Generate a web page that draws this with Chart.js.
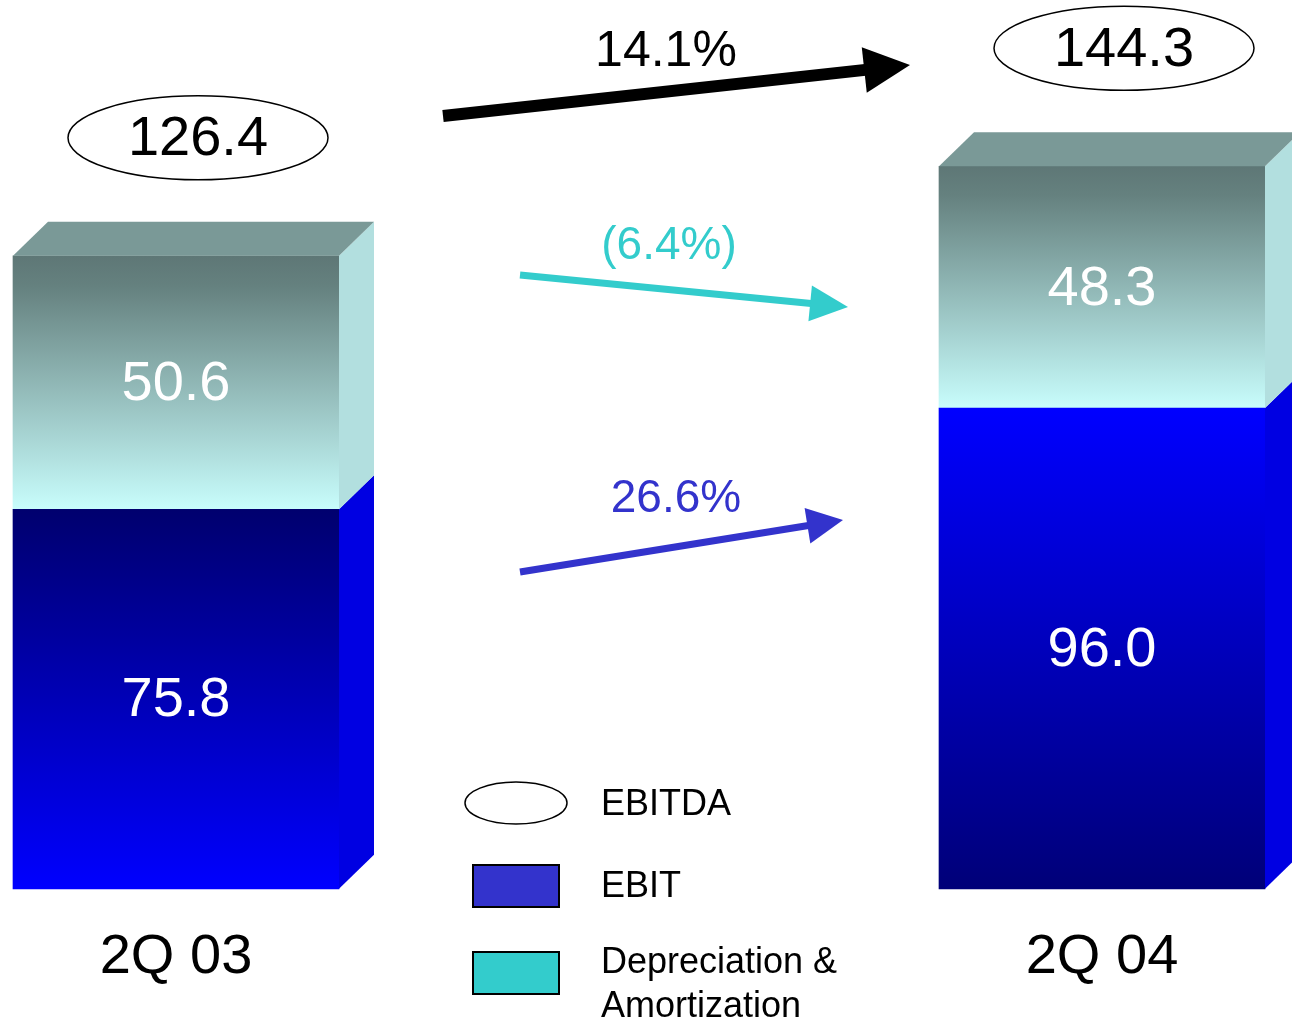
<!DOCTYPE html>
<html>
<head>
<meta charset="utf-8">
<title>EBITDA 2Q 03 vs 2Q 04</title>
<script src="https://cdn.jsdelivr.net/npm/chart.js@4.4.1/dist/chart.umd.min.js"></script>
<style>
  html, body { margin: 0; padding: 0; background: #fff; }
  #wrap { width: 1292px; height: 1026px; }
</style>
</head>
<body>
<div id="wrap"><canvas id="ebitdaChart" width="1292" height="1026"></canvas></div>
<script>
// quarterly figures
const quarters = ['2Q 03', '2Q 04'];
const ebit = [75.8, 96.0];
const depAmort = [50.6, 48.3];
const ebitda = [126.4, 144.3];
const growth = ['14.1%', '(6.4%)', '26.6%'];
const seriesNames = ['EBITDA', 'EBIT', 'Depreciation & Amortization'];

const FONT = '"Liberation Sans", Arial, Helvetica, sans-serif';
const DX = 35, DY = 34;   // depth of the fake 3d box

// gradient stops per bar (top -> bottom)
const ebitShades = [['#00006e', '#0000ff'], ['#0000ff', '#000078']];
const daShades = ['#5e7776', '#65817f', '#c8fdfc'];
const sideColors = ['#0000e2', '#b2dfdf'];
const topColor = '#7a9997';

function ebitFill(c) {
    const chart = c.chart;
    if (!chart.chartArea || c.type !== 'data') return '#0000ff';
    const y = chart.scales.y;
    const top = y.getPixelForValue(ebit[c.dataIndex]);
    const base = y.getPixelForValue(0);
    const g = chart.ctx.createLinearGradient(0, top, 0, base);
    const s = ebitShades[c.dataIndex];
    g.addColorStop(0, s[0]);
    g.addColorStop(1, s[1]);
    return g;
}

function daFill(c) {
    const chart = c.chart;
    if (!chart.chartArea || c.type !== 'data') return '#9fd0d0';
    const y = chart.scales.y;
    const i = c.dataIndex;
    const top = y.getPixelForValue(ebit[i] + depAmort[i]);
    const base = y.getPixelForValue(ebit[i]);
    const g = chart.ctx.createLinearGradient(0, top, 0, base);
    g.addColorStop(0, daShades[0]);
    g.addColorStop(0.12, daShades[1]);
    g.addColorStop(1, daShades[2]);
    return g;
}

function drawArrow(ctx, x1, y1, x2, y2, lw, headLen, headHalf, color) {
    const ang = Math.atan2(y2 - y1, x2 - x1);
    const bx = x2 - headLen * Math.cos(ang), by = y2 - headLen * Math.sin(ang);
    ctx.save();
    ctx.strokeStyle = color;
    ctx.fillStyle = color;
    ctx.lineWidth = lw;
    ctx.beginPath();
    ctx.moveTo(x1, y1);
    ctx.lineTo(bx + Math.cos(ang), by + Math.sin(ang));
    ctx.stroke();
    ctx.beginPath();
    ctx.moveTo(x2, y2);
    ctx.lineTo(bx + headHalf * Math.sin(ang), by - headHalf * Math.cos(ang));
    ctx.lineTo(bx - headHalf * Math.sin(ang), by + headHalf * Math.cos(ang));
    ctx.closePath();
    ctx.fill();
    ctx.restore();
}

function wrapText(ctx, text, maxW) {
    const words = text.split(' ');
    const lines = [];
    let line = '';
    words.forEach(w => {
        const test = line ? line + ' ' + w : w;
        if (ctx.measureText(test).width > maxW && line) {
            lines.push(line);
            line = w;
        } else {
            line = test;
        }
    });
    lines.push(line);
    return lines;
}

// side/top faces, values, totals, growth arrows and the legend
const boxPlugin = {
    id: 'boxes',
    afterDatasetsDraw(chart) {
        const ctx = chart.ctx;
        const metas = [chart.getDatasetMeta(0), chart.getDatasetMeta(1)];
        ctx.save();

        metas.forEach((meta, d) => {
            meta.data.forEach(bar => {
                const right = bar.x + bar.width / 2;
                ctx.fillStyle = sideColors[d];
                ctx.beginPath();
                ctx.moveTo(right, bar.y);
                ctx.lineTo(right + DX, bar.y - DY);
                ctx.lineTo(right + DX, bar.base - DY);
                ctx.lineTo(right, bar.base);
                ctx.closePath();
                ctx.fill();
            });
        });

        metas[1].data.forEach(bar => {
            const left = bar.x - bar.width / 2, right = bar.x + bar.width / 2;
            ctx.fillStyle = topColor;
            ctx.beginPath();
            ctx.moveTo(left, bar.y);
            ctx.lineTo(left + DX, bar.y - DY);
            ctx.lineTo(right + DX, bar.y - DY);
            ctx.lineTo(right, bar.y);
            ctx.closePath();
            ctx.fill();
        });

        // segment values
        ctx.fillStyle = '#ffffff';
        ctx.font = '56px ' + FONT;
        ctx.textAlign = 'center';
        ctx.textBaseline = 'middle';
        const values = [ebit, depAmort];
        metas.forEach((meta, d) => {
            meta.data.forEach((bar, i) => {
                ctx.fillText(values[d][i].toFixed(1), bar.x, (bar.y + bar.base) / 2 + 2);
            });
        });

        // EBITDA totals in ellipses
        metas[1].data.forEach((bar, i) => {
            const cx = bar.x + 22, cy = bar.y - DY - 84;
            ctx.beginPath();
            ctx.ellipse(cx, cy, 130, 42, 0, 0, Math.PI * 2);
            ctx.fillStyle = '#ffffff';
            ctx.fill();
            ctx.lineWidth = 1.5;
            ctx.strokeStyle = '#000000';
            ctx.stroke();
            ctx.fillStyle = '#000000';
            ctx.font = '56px ' + FONT;
            ctx.fillText(ebitda[i].toFixed(1), cx, cy + 2);
        });

        // growth arrows
        drawArrow(ctx, 443, 116, 910, 65, 12, 46, 23, '#000000');
        drawArrow(ctx, 520, 275, 848, 307, 7, 38, 18, '#33cccc');
        drawArrow(ctx, 520, 572, 843, 520, 7, 36, 18, '#3333cc');
        ctx.font = '50px ' + FONT;
        ctx.fillStyle = '#000000';
        ctx.fillText(growth[0], 666, 52);
        ctx.font = '46px ' + FONT;
        ctx.fillStyle = '#33cccc';
        ctx.fillText(growth[1], 669, 246);
        ctx.fillStyle = '#3333cc';
        ctx.fillText(growth[2], 676, 499);

        // legend
        ctx.lineWidth = 1.5;
        ctx.strokeStyle = '#000000';
        ctx.beginPath();
        ctx.ellipse(516, 803, 51, 21, 0, 0, Math.PI * 2);
        ctx.fillStyle = '#ffffff';
        ctx.fill();
        ctx.stroke();
        ctx.lineWidth = 2;
        ctx.fillStyle = '#3333cc';
        ctx.fillRect(473, 865, 86, 42);
        ctx.strokeRect(473, 865, 86, 42);
        ctx.fillStyle = '#33cccc';
        ctx.fillRect(473, 952, 86, 42);
        ctx.strokeRect(473, 952, 86, 42);

        ctx.font = '36px ' + FONT;
        ctx.fillStyle = '#000000';
        ctx.textAlign = 'left';
        const rows = [805, 887, 963];
        seriesNames.forEach((name, k) => {
            wrapText(ctx, name, 260).forEach((line, j) => {
                ctx.fillText(line, 601, rows[k] + j * 44);
            });
        });
        ctx.restore();
    }
};

new Chart(document.getElementById('ebitdaChart'), {
    type: 'bar',
    data: {
        labels: quarters,
        datasets: [{
            label: seriesNames[1],
            data: ebit,
            backgroundColor: ebitFill,
            borderWidth: 0,
            barThickness: 326,
            clip: false
        }, {
            label: seriesNames[2],
            data: depAmort,
            backgroundColor: daFill,
            borderWidth: 0,
            barThickness: 326,
            clip: false
        }]
    },
    options: {
        responsive: false,
        animation: false,
        devicePixelRatio: 1,
        // bars sit on the category gridlines, so the side padding places them
        layout: { padding: { top: 0, left: 176, right: 190, bottom: 0 } },
        plugins: {
            legend: { display: false },
            tooltip: { enabled: false }
        },
        scales: {
            x: {
                stacked: true,
                offset: false,
                ticks: {
                    padding: 35,
                    color: '#000000',
                    maxRotation: 0,
                    font: { family: FONT, size: 56 }
                },
                grid: { display: false, drawTicks: false, offset: false },
                border: { display: false }
            },
            y: {
                stacked: true,
                display: false,
                min: 0,
                max: 177.5
            }
        }
    },
    plugins: [boxPlugin]
});
</script>
</body>
</html>
